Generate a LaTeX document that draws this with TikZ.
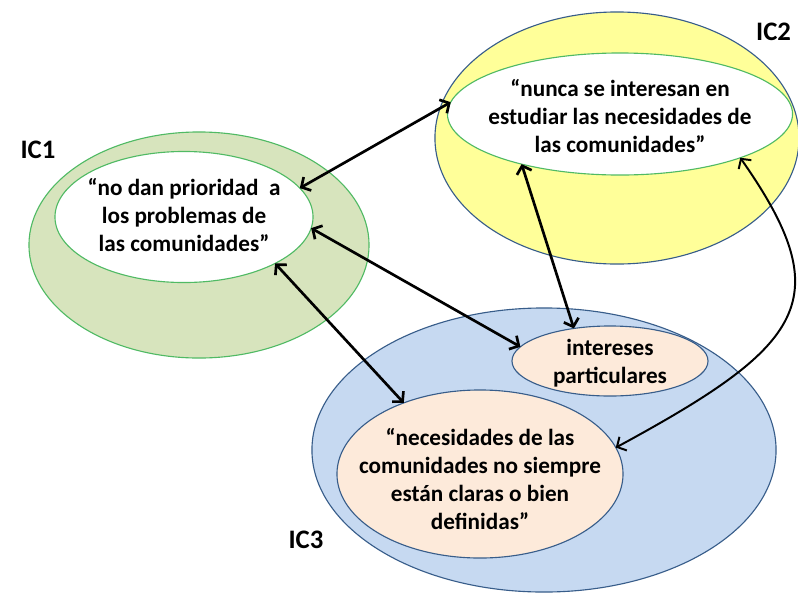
\documentclass[tikz,border=0pt]{standalone}
\usepackage{fontspec}
\setmainfont{Carlito}
\usetikzlibrary{arrows.meta,shapes.geometric}
\definecolor{icgreen}{RGB}{80,186,100}
\definecolor{icolive}{RGB}{215,228,189}
\definecolor{icyellow}{RGB}{255,255,153}
\definecolor{icblue}{RGB}{198,217,241}
\definecolor{icslate}{RGB}{56,93,138}
\definecolor{icpeach}{RGB}{253,234,218}
\tikzset{
	zone/.style={
			ellipse, draw, line width=0.8pt, inner sep=0pt, outer sep=0pt
		},
	quote/.style={align=center, font=\bfseries\fontsize{16.5}{20}\selectfont},
	tag/.style={font=\bfseries\fontsize{19}{21}\selectfont},
	link/.style={<->, black, line width=1.9pt, >={Straight Barb[length=5pt,width=11pt]}}
}

\begin{document}
\begin{tikzpicture}[x=0.025cm, y=-0.025cm]
		\useasboundingbox (0,0) rectangle (798,594);
		% IC1
		\node [zone, draw=icgreen, fill=icolive, minimum width=8.5cm, minimum height=5.65cm] (o1) at (199,245) {};
		\node [zone, draw=icgreen, fill=white, minimum width=6.45cm, minimum height=3.275cm] (i1) at (184,217) {};
		% IC2
		\node [zone, draw=icslate, fill=icyellow, minimum width=9.1cm, minimum height=6.3cm] (o2) at (617,138) {};
		\node [zone, draw=icgreen, fill=white, minimum width=8.625cm, minimum height=3.05cm] (i2) at (620,114) {};
		% IC3
		\node [zone, draw=icslate, fill=icblue, minimum width=11.6cm, minimum height=7.1cm] (o3) at (544,450) {};
		\node [zone, draw=icslate, fill=icpeach, minimum width=4.9cm, minimum height=1.75cm] (p3) at (610,361) {};
		\node [zone, draw=icslate, fill=icpeach, minimum width=7.15cm, minimum height=4.2cm] (n3) at (480,474) {};

		\node [quote] (t1) at (184,215) {“no dan prioridad\ \ a\\los problemas de\\las comunidades”};
		\node [quote] (t2) at (620,116) {“nunca se interesan en\\estudiar las necesidades de\\las comunidades”};
		\node [quote] (t3) at (610,363) {intereses\\particulares};
		\node [quote] (t5) at (480,479) {“necesidades de las\\comunidades no siempre\\están claras o bien\\definidas”};

		\node [tag] (l1) at (38,150) {IC1};
		\node [tag, anchor=east] (l2) at (796,32) {IC2};
		\node [tag] (l3) at (306,540) {IC3};

		\draw [link] (i2.176) -- (i1.14);
		\draw [link] (i1.-5) -- (p3.171);
		\draw [link] (i1.-27) -- (n3.137);
		\draw [link] (i2.207) -- (p3.138);
		\draw [link, line width=1.4pt] (i2.-20) .. controls (840,300) and (805,345) .. (n3.11);
	\end{tikzpicture}
\end{document}
